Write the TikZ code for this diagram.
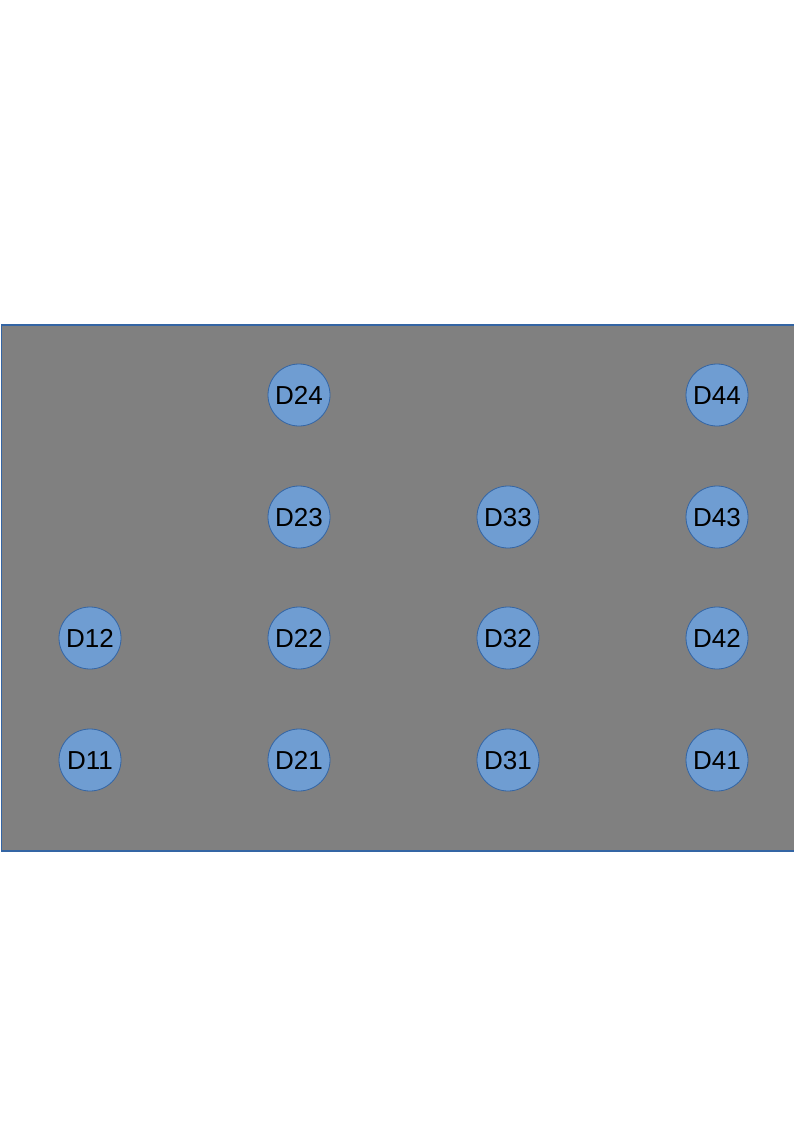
\documentclass[tikz,border=0pt]{standalone}
\usepackage{fontspec}
\setmainfont{Liberation Sans}
\definecolor{bgray}{HTML}{808080}
\definecolor{cfill}{HTML}{6F9DD2}
\definecolor{cline}{HTML}{3465A4}
\begin{document}
\begin{tikzpicture}[x=1pt,y=-1pt,
  disk/.style={circle,draw=cline,fill=cfill,line width=0.8pt,minimum size=62pt,inner sep=0pt,text height=18.6pt,text depth=0pt,font=\fontsize{26}{26}\selectfont,text=black}]
\useasboundingbox (0,0) rectangle (794,1123);
\fill[white] (0,0) rectangle (794,1123);
\node[draw=cline,fill=bgray,line width=1.2pt,minimum width=793pt,minimum height=526pt,inner sep=0pt,anchor=north west] (panel) at (0.6,324.4) {};
\node[disk] (d11) at (90,760) {D11};
\node[disk] (d12) at (90,638) {D12};
\node[disk] (d21) at (299,760) {D21};
\node[disk] (d22) at (299,638) {D22};
\node[disk] (d23) at (299,517) {D23};
\node[disk] (d24) at (299,395) {D24};
\node[disk] (d31) at (508,760) {D31};
\node[disk] (d32) at (508,638) {D32};
\node[disk] (d33) at (508,517) {D33};
\node[disk] (d41) at (717,760) {D41};
\node[disk] (d42) at (717,638) {D42};
\node[disk] (d43) at (717,517) {D43};
\node[disk] (d44) at (717,395) {D44};
\end{tikzpicture}
\end{document}
